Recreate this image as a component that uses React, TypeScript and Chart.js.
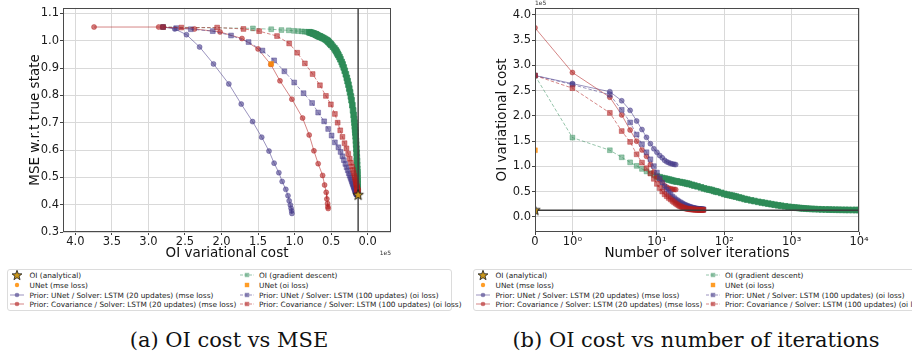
import React, { useEffect, useRef } from 'react';
import { Chart, registerables, LinearScale } from 'chart.js';

Chart.register(...registerables);

// ---------------- data (costs in units of 1e5) ----------------
const OI_COST = 0.13; // analytical OI variational cost
const OI_MSE = 0.435;
const UNET_OI_COST = 1.32;
const UNET_OI_MSE = 0.915;

// Prior: UNet / Solver: LSTM (20 updates) (mse loss)
const UNET20_COST = [2.8, 2.64, 2.48, 2.3, 2.11, 1.9, 1.73, 1.575, 1.45, 1.35, 1.28, 1.215, 1.17, 1.12, 1.09, 1.074, 1.058, 1.048, 1.04, 1.036];
const UNET20_MSE = [1.05, 1.043, 1.022, 0.977, 0.915, 0.842, 0.768, 0.704, 0.647, 0.596, 0.552, 0.517, 0.485, 0.456, 0.433, 0.414, 0.399, 0.387, 0.377, 0.368];

// Prior: Covariance / Solver: LSTM (20 updates) (mse loss)
const COV20_COST = [3.745, 2.86, 2.37, 2.02, 1.72, 1.5, 1.325, 1.2, 1.037, 0.89, 0.8, 0.735, 0.677, 0.616, 0.589, 0.567, 0.558, 0.548, 0.544, 0.54];
const COV20_MSE = [1.05, 1.05, 1.043, 1.032, 1.008, 0.97, 0.913, 0.853, 0.786, 0.717, 0.655, 0.597, 0.55, 0.507, 0.472, 0.445, 0.421, 0.404, 0.392, 0.386];

// Prior: UNet / Solver: LSTM (100 updates) (oi loss)
const UNET100_COST = [2.8, 2.62, 2.42, 2.12, 1.87, 1.63, 1.44, 1.28, 1.14, 1.005,
  0.877, 0.76, 0.677, 0.595, 0.54, 0.493, 0.448, 0.4, 0.37, 0.345,
  0.325, 0.305, 0.288, 0.272, 0.258, 0.245, 0.234, 0.224, 0.215, 0.207,
  0.2, 0.193, 0.187, 0.182, 0.177, 0.173, 0.169, 0.166, 0.163, 0.16,
  0.158, 0.156, 0.154, 0.153, 0.152, 0.151, 0.15, 0.149, 0.149, 0.148];
const UNET100_MSE = [1.05, 1.046, 1.042, 1.035, 1.019, 0.995, 0.964, 0.928, 0.888, 0.847,
  0.808, 0.772, 0.737, 0.705, 0.677, 0.653, 0.628, 0.61, 0.593, 0.577,
  0.563, 0.549, 0.537, 0.526, 0.515, 0.506, 0.498, 0.491, 0.484, 0.478,
  0.473, 0.468, 0.464, 0.46, 0.457, 0.454, 0.452, 0.45, 0.448, 0.446,
  0.445, 0.444, 0.443, 0.442, 0.441, 0.44, 0.44, 0.439, 0.439, 0.438];

// Prior: Covariance / Solver: LSTM (100 updates) (oi loss)
const COV100_COST = [2.8, 2.55, 2.06, 1.7, 1.485, 1.24, 1.074, 0.964, 0.859, 0.753,
  0.653, 0.571, 0.503, 0.448, 0.41, 0.375, 0.345, 0.316, 0.29, 0.266,
  0.245, 0.228, 0.213, 0.2, 0.19, 0.181, 0.173, 0.167, 0.162, 0.158,
  0.155, 0.152, 0.15, 0.148, 0.146, 0.145, 0.144, 0.143, 0.142, 0.141,
  0.141, 0.14, 0.14, 0.139, 0.139, 0.139, 0.138, 0.138, 0.138, 0.138];
const COV100_MSE = [1.05, 1.048, 1.048, 1.043, 1.035, 1.017, 0.99, 0.956, 0.917, 0.878,
  0.837, 0.798, 0.767, 0.732, 0.7, 0.672, 0.648, 0.625, 0.606, 0.586,
  0.568, 0.553, 0.539, 0.527, 0.516, 0.506, 0.498, 0.491, 0.485, 0.48,
  0.475, 0.471, 0.468, 0.465, 0.463, 0.461, 0.459, 0.458, 0.457, 0.456,
  0.455, 0.454, 0.454, 0.453, 0.453, 0.452, 0.452, 0.451, 0.451, 0.45];

// OI (gradient descent) sampled at these iterations
const GD_ITERS = [0, 1, 2, 3, 4, 5, 6, 7, 8, 9, 10, 11, 12, 13, 14, 15, 16, 17, 18, 19, 20,
  22, 24, 26, 28, 30, 33, 36, 40, 45, 50, 55, 60, 65, 70, 75, 80, 90, 100,
  110, 120, 130, 140, 150, 165, 180, 200, 220, 250, 280, 320, 360, 400, 450, 500, 560, 630, 700, 800, 900, 1000,
  1100, 1200, 1300, 1400, 1500, 1650, 1800, 2000, 2200, 2500, 2800, 3200, 3600, 4000, 4500, 5000, 5600, 6300, 7000, 8000, 9000, 10000];
const GD_COST = [2.8, 1.57, 1.32, 1.18, 1.08, 1.01, 0.95, 0.9, 0.865, 0.83, 0.8, 0.785, 0.77, 0.76, 0.75, 0.74, 0.73, 0.72, 0.71, 0.705, 0.7,
  0.69, 0.68, 0.67, 0.66, 0.65, 0.635, 0.62, 0.605, 0.585, 0.565, 0.55, 0.54, 0.53, 0.515, 0.505, 0.495, 0.475, 0.455,
  0.44, 0.43, 0.42, 0.41, 0.4, 0.385, 0.372, 0.355, 0.342, 0.327, 0.313, 0.298, 0.285, 0.274, 0.262, 0.251, 0.24, 0.229, 0.22, 0.209, 0.199, 0.191,
  0.185, 0.18, 0.175, 0.171, 0.168, 0.164, 0.16, 0.157, 0.154, 0.151, 0.148, 0.146, 0.144, 0.142, 0.141, 0.14, 0.139, 0.138, 0.137, 0.136, 0.136, 0.135];
const GD_MSE = [1.05, 1.045, 1.042, 1.039, 1.038, 1.036, 1.035, 1.034, 1.033, 1.032, 1.031, 1.03, 1.029, 1.028, 1.027, 1.026, 1.025, 1.024, 1.023, 1.022, 1.021,
  1.02, 1.018, 1.017, 1.016, 1.015, 1.013, 1.011, 1.009, 1.006, 1.003, 1.0, 0.997, 0.994, 0.99, 0.987, 0.984, 0.978, 0.972,
  0.966, 0.962, 0.957, 0.952, 0.947, 0.94, 0.932, 0.922, 0.913, 0.902, 0.89, 0.877, 0.864, 0.852, 0.839, 0.825, 0.811, 0.796, 0.782, 0.764, 0.745, 0.728,
  0.713, 0.7, 0.686, 0.674, 0.664, 0.65, 0.634, 0.62, 0.605, 0.59, 0.573, 0.56, 0.546, 0.531, 0.52, 0.51, 0.498, 0.487, 0.476, 0.465, 0.456, 0.447];

// axes
const X1_TICKS = [4.0, 3.5, 3.0, 2.5, 2.0, 1.5, 1.0, 0.5, 0.0];
const Y1_TICKS = [0.3, 0.4, 0.5, 0.6, 0.7, 0.8, 0.9, 1.0, 1.1];
const X1_MIN = -0.32, X1_MAX = 4.17;
const Y1_MIN = 0.3, Y1_MAX = 1.12;
const X2_TICKS = [0, 1, 10, 100, 1000, 10000];
const X2_TICK_LABELS = ['0', '10⁰', '10¹', '10²', '10³', '10⁴'];
const Y2_TICKS = [0.0, 0.5, 1.0, 1.5, 2.0, 2.5, 3.0, 3.5, 4.0];
const X2_MIN = 0, X2_MAX = 10000;
const Y2_MIN = -0.3, Y2_MAX = 4.14;

const LEGEND_LABELS = [
  'OI (analytical)',
  'UNet (mse loss)',
  'Prior: UNet / Solver: LSTM (20 updates) (mse loss)',
  'Prior: Covariance / Solver: LSTM (20 updates) (mse loss)',
  'OI (gradient descent)',
  'UNet (oi loss)',
  'Prior: UNet / Solver: LSTM (100 updates) (oi loss)',
  'Prior: Covariance / Solver: LSTM (100 updates) (oi loss)',
];
const LEGEND_KINDS = ['star', 'orangeCircle', 'blueSolid', 'redSolid', 'greenDash', 'orangeSquare', 'blueDash', 'redDash'];

// ---------------- styles ----------------
const BLUE_LINE = 'rgba(72,61,139,0.55)';
const BLUE_PT = 'rgba(72,61,139,0.6)';
const RED_LINE = 'rgba(178,34,34,0.55)';
const RED_PT = 'rgba(178,34,34,0.6)';
const GREEN_LINE = 'rgba(46,139,87,0.5)';
const GREEN_PT = 'rgba(46,139,87,0.5)';
const GREEN_MID = 'rgba(46,139,87,0.85)';
const GREEN_DENSE = 'rgb(46,139,87)';
const ORANGE = 'rgba(255,140,0,0.85)';
const STAR_FILL = '#c9961c';
const FONT = "'DejaVu Sans', sans-serif";

// ---------------- symlog scale (matplotlib style, linthresh 2) ----------------
const LINTHRESH = 2;
const LINSCALE_ADJ = 1 / (1 - 1 / 10);
function symlog(v: number) {
  const a = Math.abs(v);
  return a <= LINTHRESH ? v * LINSCALE_ADJ : Math.sign(v) * LINTHRESH * (LINSCALE_ADJ + Math.log10(a / LINTHRESH));
}
function symlogInv(t: number) {
  const a = Math.abs(t);
  const edge = LINTHRESH * LINSCALE_ADJ;
  return a <= edge ? t / LINSCALE_ADJ : Math.sign(t) * LINTHRESH * Math.pow(10, a / LINTHRESH - LINSCALE_ADJ);
}
class SymlogScale extends LinearScale {
  static id = 'symlog';
  static defaults = {};
  getPixelForValue(value: number) {
    const t0 = symlog(this.min), t1 = symlog(this.max);
    return this.getPixelForDecimal((symlog(value) - t0) / (t1 - t0));
  }
  getValueForPixel(pixel: number) {
    const t0 = symlog(this.min), t1 = symlog(this.max);
    return symlogInv(t0 + this.getDecimalForPixel(pixel) * (t1 - t0));
  }
}
Chart.register(SymlogScale as any);

function makeStar(r: number, fill: string) {
  const size = Math.ceil(r * 2 + 3);
  const c = document.createElement('canvas');
  c.width = size; c.height = size;
  const g = c.getContext('2d')!;
  g.beginPath();
  for (let i = 0; i < 10; i++) {
    const rr = i % 2 === 0 ? r : r * 0.42;
    const a = -Math.PI / 2 + (i * Math.PI) / 5;
    const px = size / 2 + rr * Math.cos(a), py = size / 2 + rr * Math.sin(a);
    if (i === 0) g.moveTo(px, py); else g.lineTo(px, py);
  }
  g.closePath();
  g.fillStyle = fill; g.fill();
  g.strokeStyle = '#1a1a1a'; g.lineWidth = 0.9; g.stroke();
  return c;
}

const framePlugin = {
  id: 'frame',
  afterDraw(chart: any, _args: any, opts: any) {
    const { ctx, chartArea: a } = chart;
    ctx.save();
    ctx.strokeStyle = '#4a4a4a';
    ctx.lineWidth = 1;
    ctx.strokeRect(Math.round(a.left) + 0.5, Math.round(a.top) + 0.5, Math.round(a.width) - 1, Math.round(a.height) - 1);
    ctx.fillStyle = '#333';
    ctx.font = `6px ${FONT}`;
    if (opts.corner === 'br') {
      ctx.textAlign = 'right';
      ctx.textBaseline = 'middle';
      ctx.fillText(opts.text, a.right, 253);
    } else {
      ctx.textAlign = 'left';
      ctx.textBaseline = 'middle';
      ctx.fillText(opts.text, a.left, 3.5);
    }
    ctx.restore();
  },
};

function series(label: string, data: any[], line: string, pt: any, dashed: boolean, square: boolean, order: number, radius?: any) {
  return {
    label, data, order, showLine: true,
    borderColor: line, borderWidth: 1, borderDash: dashed ? [3.5, 2] : [],
    pointStyle: square ? 'rect' : 'circle',
    pointRadius: radius !== undefined ? radius : square ? 3.4 : 2.5,
    pointBackgroundColor: pt, pointBorderColor: pt, pointBorderWidth: 0.7,
  };
}

// marker opacity grows where the gradient-descent iterates pile up
const gdColor = (ctx: any) => {
  const it = GD_ITERS[ctx.dataIndex];
  return it >= 20 ? GREEN_DENSE : it >= 10 ? GREEN_MID : GREEN_PT;
};
const gdRadius = (ctx: any) => (GD_ITERS[ctx.dataIndex] >= 10 ? 4 : 3.4);

function buildDatasets(isA: boolean) {
  const pts = (cost: number[], mse: number[], iters?: number[]) =>
    isA ? cost.map((c, i) => ({ x: c, y: mse[i] })) : cost.map((c, i) => ({ x: iters ? iters[i] : i, y: c }));
  return [
    { label: 'OI (analytical)', data: isA ? [{ x: OI_COST, y: OI_MSE }] : [{ x: 0, y: OI_COST }],
      pointStyle: makeStar(5.5, STAR_FILL), pointRadius: 6, showLine: false, order: 0 },
    { label: 'UNet (oi loss)', data: isA ? [{ x: UNET_OI_COST, y: UNET_OI_MSE }] : [{ x: 0, y: UNET_OI_COST }],
      pointStyle: 'rect', pointRadius: 3.4, pointBackgroundColor: ORANGE, pointBorderColor: ORANGE, pointBorderWidth: 0.5, showLine: false, order: 1 },
    { label: 'OI cost', data: isA ? [{ x: OI_COST, y: Y1_MIN }, { x: OI_COST, y: Y1_MAX }] : [{ x: X2_MIN, y: OI_COST }, { x: X2_MAX, y: OI_COST }],
      showLine: true, borderColor: '#3c3c3c', borderWidth: 1.4, pointRadius: 0, order: 2 },
    series('Prior: Covariance / Solver: LSTM (100 updates) (oi loss)', pts(COV100_COST, COV100_MSE), RED_LINE, RED_PT, true, true, 3),
    series('Prior: UNet / Solver: LSTM (100 updates) (oi loss)', pts(UNET100_COST, UNET100_MSE), BLUE_LINE, BLUE_PT, true, true, 4),
    series('Prior: Covariance / Solver: LSTM (20 updates) (mse loss)', pts(COV20_COST, COV20_MSE), RED_LINE, RED_PT, false, false, 5),
    series('Prior: UNet / Solver: LSTM (20 updates) (mse loss)', pts(UNET20_COST, UNET20_MSE), BLUE_LINE, BLUE_PT, false, false, 6),
    series('OI (gradient descent)', pts(GD_COST, GD_MSE, GD_ITERS), GREEN_LINE, gdColor, true, true, 7, gdRadius),
  ];
}

function axis(opts: any) {
  const { ticks, labels, min, max, title, fitSize, horizontal, titlePad, reverse, type } = opts;
  return {
    type: type || 'linear',
    min, max, reverse: !!reverse, bounds: 'data',
    afterBuildTicks: (s: any) => { s.ticks = ticks.map((v: number) => ({ value: v })); },
    afterFit: (s: any) => { if (horizontal) s.height = fitSize; else s.width = fitSize; },
    grid: { color: '#d9d9d9', lineWidth: 1, drawTicks: true, tickLength: 3, tickColor: '#444' },
    border: { display: false },
    ticks: {
      autoSkip: false, maxRotation: 0, padding: horizontal ? 0 : 1, color: '#1a1a1a',
      font: { family: FONT, size: 11.5 },
      callback: (v: number) => (labels ? labels[ticks.indexOf(v)] : v.toFixed(1)),
    },
    title: { display: true, text: title, color: '#111', font: { family: FONT, size: 13.5 }, padding: titlePad },
  };
}

function makeConfig(isA: boolean): any {
  return {
    type: 'scatter',
    data: { datasets: buildDatasets(isA) },
    options: {
      animation: false, responsive: false, events: [],
      layout: { padding: { left: 0, top: 7, bottom: 0, right: isA ? 65 : 53 } },
      plugins: { legend: { display: false }, tooltip: { enabled: false }, frame: { text: '1e5', corner: isA ? 'br' : 'tl' } },
      scales: isA
        ? {
            x: axis({ ticks: X1_TICKS, min: X1_MIN, max: X1_MAX, reverse: true, title: 'OI variational cost', fitSize: 34, horizontal: true, titlePad: { top: 0, bottom: 4 } }),
            y: axis({ ticks: Y1_TICKS, min: Y1_MIN, max: Y1_MAX, title: 'MSE w.r.t true state', fitSize: 63, titlePad: { top: 27, bottom: 0 } }),
          }
        : {
            x: axis({ type: 'symlog', ticks: X2_TICKS, labels: X2_TICK_LABELS, min: X2_MIN, max: X2_MAX, title: 'Number of solver iterations', fitSize: 34, horizontal: true, titlePad: { top: 0, bottom: 4 } }),
            y: axis({ ticks: Y2_TICKS, min: Y2_MIN, max: Y2_MAX, title: 'OI variational cost', fitSize: 79, titlePad: { top: 38, bottom: 0 } }),
          },
    },
    plugins: [framePlugin],
  };
}

function starPoints(cx: number, cy: number, r: number) {
  const p: string[] = [];
  for (let i = 0; i < 10; i++) {
    const rr = i % 2 === 0 ? r : r * 0.42;
    const a = -Math.PI / 2 + (i * Math.PI) / 5;
    p.push(`${(cx + rr * Math.cos(a)).toFixed(2)},${(cy + rr * Math.sin(a)).toFixed(2)}`);
  }
  return p.join(' ');
}

function LegendMarker({ kind }: { kind: string }) {
  const lineSpec: Record<string, [string, string, boolean, boolean]> = {
    blueSolid: [BLUE_LINE, BLUE_PT, false, false],
    blueDash: [BLUE_LINE, BLUE_PT, true, true],
    redSolid: [RED_LINE, RED_PT, false, false],
    redDash: [RED_LINE, RED_PT, true, true],
    greenDash: [GREEN_LINE, GREEN_PT, true, true],
  };
  let content: any = null;
  if (kind === 'star') {
    content = <polygon points={starPoints(8, 5.5, 5.2)} fill={STAR_FILL} stroke="#1a1a1a" strokeWidth={0.8} />;
  } else if (kind === 'orangeCircle') {
    content = <circle cx={8} cy={5} r={2.2} fill={ORANGE} />;
  } else if (kind === 'orangeSquare') {
    content = <rect x={5.8} y={2.8} width={4.4} height={4.4} fill={ORANGE} />;
  } else {
    const [lc, pc, dashed, square] = lineSpec[kind];
    content = (
      <g>
        <line x1={1} y1={5} x2={15} y2={5} stroke={lc} strokeWidth={1} strokeDasharray={dashed ? '3,1.5' : undefined} />
        {square ? <rect x={5.8} y={2.8} width={4.4} height={4.4} fill={pc} /> : <circle cx={8} cy={5} r={2.3} fill={pc} />}
      </g>
    );
  }
  return <svg width={16} height={11} style={{ display: 'block' }}>{content}</svg>;
}

function Legend({ left }: { left: number }) {
  const top = 269;
  return (
    <div style={{ position: 'absolute', left, top, width: 445, height: 42, border: '1px solid #dcdcdc', borderRadius: 3, background: '#fff', boxSizing: 'border-box' }}>
      {LEGEND_LABELS.map((lab, i) => {
        const col = Math.floor(i / 4), row = i % 4;
        const cy = 6.3 + row * 9.7;
        const mx = col === 0 ? 9 : 238.5;
        const tx = col === 0 ? 21.5 : 251;
        return (
          <React.Fragment key={i}>
            <div style={{ position: 'absolute', left: mx - 8, top: cy - 6 }}><LegendMarker kind={LEGEND_KINDS[i]} /></div>
            <div style={{ position: 'absolute', left: tx, top: cy - 5, height: 10, lineHeight: '10px', fontSize: 7.35, fontFamily: FONT, color: '#222', whiteSpace: 'nowrap' }}>{lab}</div>
          </React.Fragment>
        );
      })}
    </div>
  );
}

export default function App() {
  const refA = useRef<HTMLCanvasElement>(null);
  const refB = useRef<HTMLCanvasElement>(null);
  useEffect(() => {
    const a = new Chart(refA.current!, makeConfig(true));
    const b = new Chart(refB.current!, makeConfig(false));
    return () => { a.destroy(); b.destroy(); };
  }, []);
  const cap: any = { position: 'absolute', top: 328, fontFamily: "'DejaVu Serif', serif", fontSize: 21, lineHeight: '24px', color: '#111', whiteSpace: 'nowrap', transform: 'translateX(-50%)' };
  return (
    <div style={{ position: 'absolute', left: 0, top: 0, width: 912, height: 356, background: '#fff', overflow: 'hidden' }}>
      <canvas ref={refA} width={456} height={266} style={{ position: 'absolute', left: 0, top: 0 }} />
      <canvas ref={refB} width={456} height={266} style={{ position: 'absolute', left: 456, top: 0 }} />
      <Legend left={7} />
      <Legend left={473} />
      <div style={{ ...cap, left: 229 }}>(a) OI cost vs MSE</div>
      <div style={{ ...cap, left: 696 }}>(b) OI cost vs number of iterations</div>
    </div>
  );
}
